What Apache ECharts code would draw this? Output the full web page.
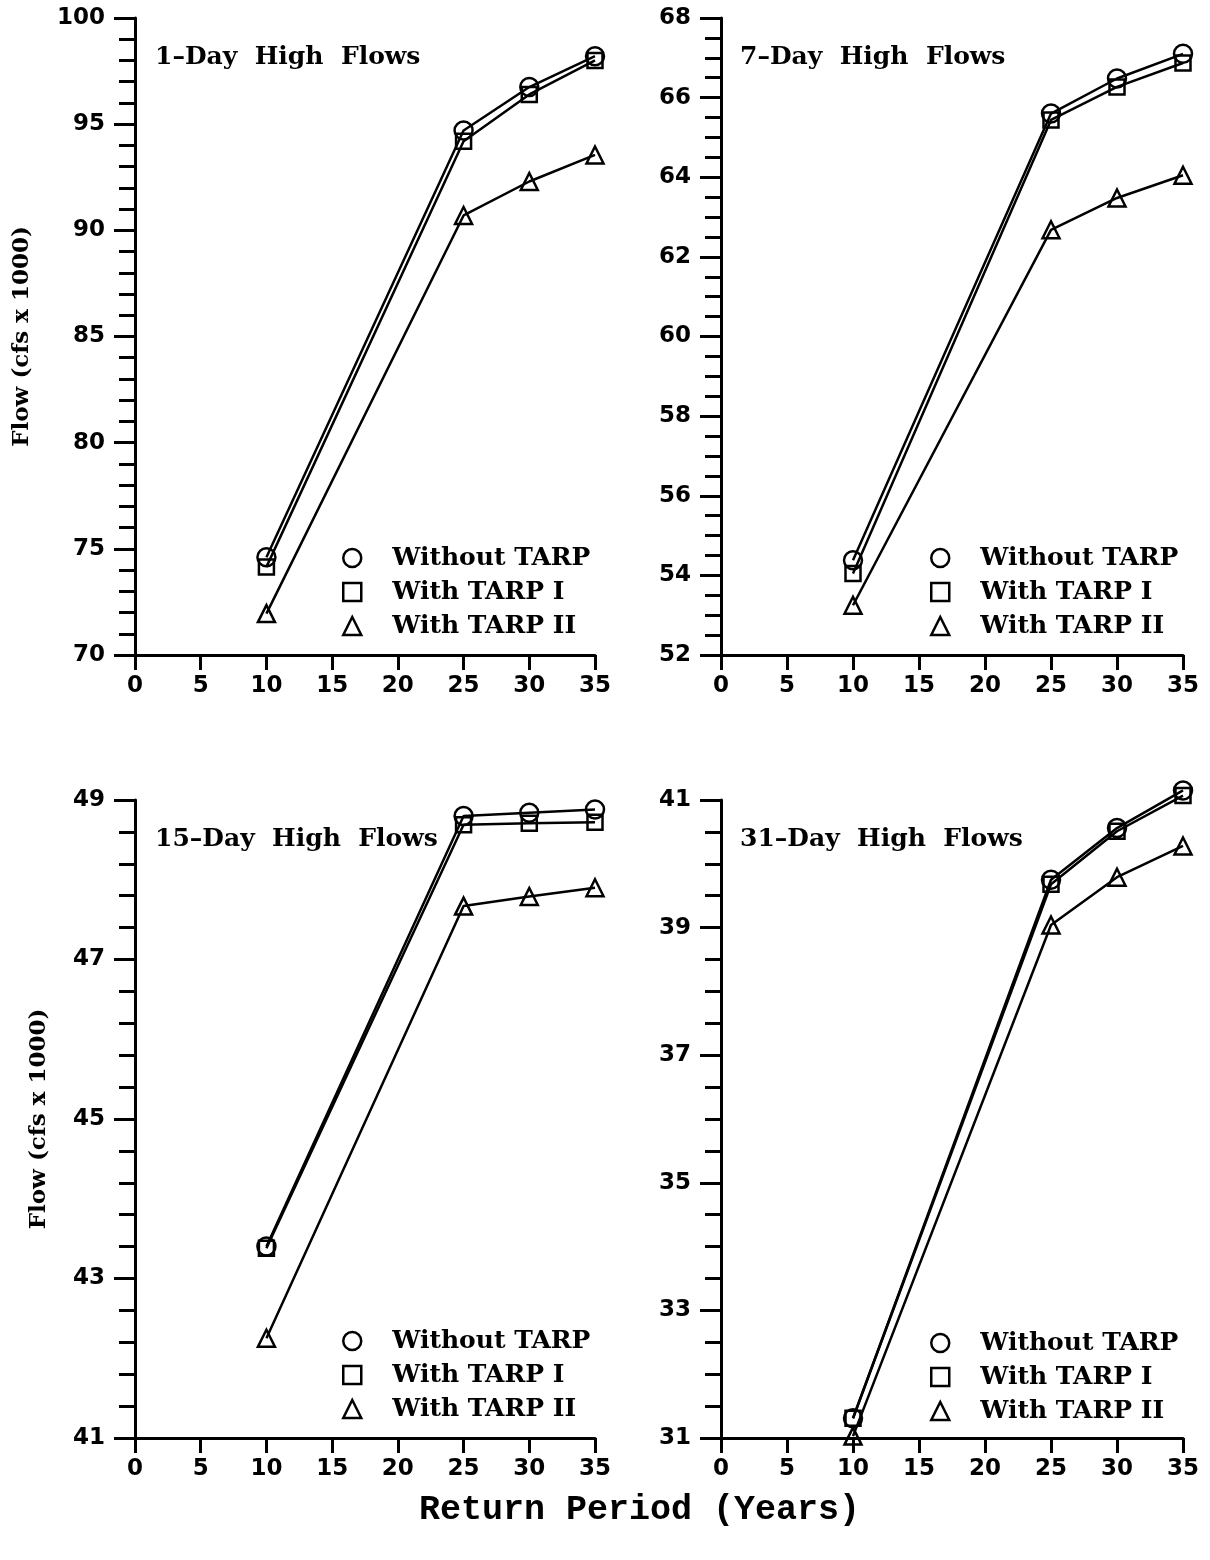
<!DOCTYPE html>
<html>
<head>
<meta charset="utf-8">
<script src="https://cdn.jsdelivr.net/npm/echarts@6/dist/echarts.min.js"></script>
<style>
  html, body { margin: 0; padding: 0; background: #fff; }
  #chart { width: 1210px; height: 1560px; }
</style>
</head>
<body>
<div id="chart"></div>
<script>
// return periods (years)
const periods = [10, 25, 30, 35]
const seriesNames = ["Without TARP", "With TARP I", "With TARP II"]
const panelTitles = ["1\u2013Day  High  Flows", "7\u2013Day  High  Flows", "15\u2013Day  High  Flows", "31\u2013Day  High  Flows"]

// flows (cfs x 1000)
const day1Without = [74.6, 94.7, 96.75, 98.2]
const day1Tarp1 = [74.15, 94.2, 96.4, 98.0]
const day1Tarp2 = [71.95, 90.7, 92.3, 93.55]

const day7Without = [54.38, 65.6, 66.48, 67.1]
const day7Tarp1 = [54.05, 65.44, 66.27, 66.87]
const day7Tarp2 = [53.25, 62.68, 63.48, 64.05]

const day15Without = [43.4, 48.8, 48.84, 48.88]
const day15Tarp1 = [43.38, 48.69, 48.71, 48.72]
const day15Tarp2 = [42.25, 47.67, 47.79, 47.9]

const day31Without = [31.31, 39.75, 40.56, 41.15]
const day31Tarp1 = [31.31, 39.68, 40.51, 41.07]
const day31Tarp2 = [31.03, 39.04, 39.79, 40.28]

// y axis settings per panel: [min, max, interval, minor splits]
const yRanges = [
	[70, 100, 5, 5],
	[52, 68, 2, 4],
	[41, 49, 2, 5],
	[31, 41, 2, 4],
]

const panelData = [
	[day1Without, day1Tarp1, day1Tarp2],
	[day7Without, day7Tarp1, day7Tarp2],
	[day15Without, day15Tarp1, day15Tarp2],
	[day31Without, day31Tarp1, day31Tarp2],
]

const symbols = ["circle", "rect", "triangle"]
const symbolSizes = [18, 15, 17]

const serifBold = "'DejaVu Serif', serif"
const numFont = "'DejaVu Sans', sans-serif"

const grids = [
	{ left: 135, top: 18, width: 460, height: 637 },
	{ left: 721, top: 18, width: 462, height: 637 },
	{ left: 135, top: 800, width: 460, height: 638 },
	{ left: 721, top: 800, width: 462, height: 638 },
]

const legendPos = [
	{ left: 337, top: 538 },
	{ left: 925, top: 538 },
	{ left: 337, top: 1321 },
	{ left: 925, top: 1323 },
]

const titlePos = [
	{ left: 150, top: 40 },
	{ left: 735, top: 40 },
	{ left: 150, top: 822 },
	{ left: 735, top: 822 },
]

const yNameGap = [101, 0, 84, 0]

const xAxes = grids.map((g, i) => ({
	type: "value",
	gridIndex: i,
	min: 0,
	max: 35,
	interval: 5,
	splitLine: { show: false },
	axisLine: { lineStyle: { color: "#000", width: 3 } },
	axisTick: { length: 15, lineStyle: { color: "#000", width: 3 } },
	axisLabel: { color: "#000", fontFamily: numFont, fontWeight: "bold", fontSize: 23, margin: 20 },
}))

const yAxes = grids.map((g, i) => ({
	type: "value",
	gridIndex: i,
	min: yRanges[i][0],
	max: yRanges[i][1],
	interval: yRanges[i][2],
	name: i % 2 === 0 ? "Flow (cfs x 1000)" : "",
	nameLocation: "middle",
	nameGap: yNameGap[i],
	nameTextStyle: { color: "#000", fontFamily: serifBold, fontWeight: "bold", fontSize: 23 },
	splitLine: { show: false },
	axisLine: { lineStyle: { color: "#000", width: 3 } },
	axisTick: { length: 21, lineStyle: { color: "#000", width: 3 } },
	minorTick: { show: true, splitNumber: yRanges[i][3], length: 16, lineStyle: { color: "#000", width: 3 } },
	axisLabel: { color: "#000", fontFamily: numFont, fontWeight: "bold", fontSize: 23, margin: 30 },
}))

const series = []
panelData.forEach((group, p) => {
	group.forEach((vals, s) => {
		series.push({
			name: seriesNames[s],
			type: "line",
			xAxisIndex: p,
			yAxisIndex: p,
			clip: false,
			data: periods.map((x, k) => [x, vals[k]]),
			symbol: symbols[s],
			symbolSize: symbolSizes[s],
			lineStyle: { color: "#000", width: 2.5 },
			itemStyle: { color: "rgba(0,0,0,0)", borderColor: "#000", borderWidth: 2.5 },
			emphasis: { disabled: true },
			animation: false,
		})
	})
})

const legends = legendPos.map((pos) => ({
	...pos,
	orient: "vertical",
	itemWidth: 18,
	itemHeight: 18,
	itemGap: 4,
	selectedMode: false,
	textStyle: { color: "#000", fontFamily: serifBold, fontWeight: "bold", fontSize: 25, lineHeight: 30, padding: [0, 0, 0, 26] },
	data: seriesNames.map((n, s) => ({
		name: n,
		icon: symbols[s],
		itemStyle: { color: "rgba(0,0,0,0)", borderColor: "#000", borderWidth: 2.5 },
	})),
}))

const titles = titlePos.map((pos, i) => ({
	...pos,
	text: panelTitles[i],
	textStyle: { color: "#000", fontFamily: serifBold, fontWeight: "bold", fontSize: 25 },
}))
titles.push({
	text: "Return Period (Years)",
	left: 414,
	top: 1488,
	textStyle: { color: "#000", fontFamily: "'Liberation Mono', monospace", fontWeight: "bold", fontSize: 35 },
})

const options = {
	backgroundColor: "#fff",
	animation: false,
	title: titles,
	legend: legends,
	grid: grids,
	xAxis: xAxes,
	yAxis: yAxes,
	series: series,
}

const chartInstance = echarts.init(document.getElementById("chart"))
chartInstance.setOption(options)
</script>
</body>
</html>
